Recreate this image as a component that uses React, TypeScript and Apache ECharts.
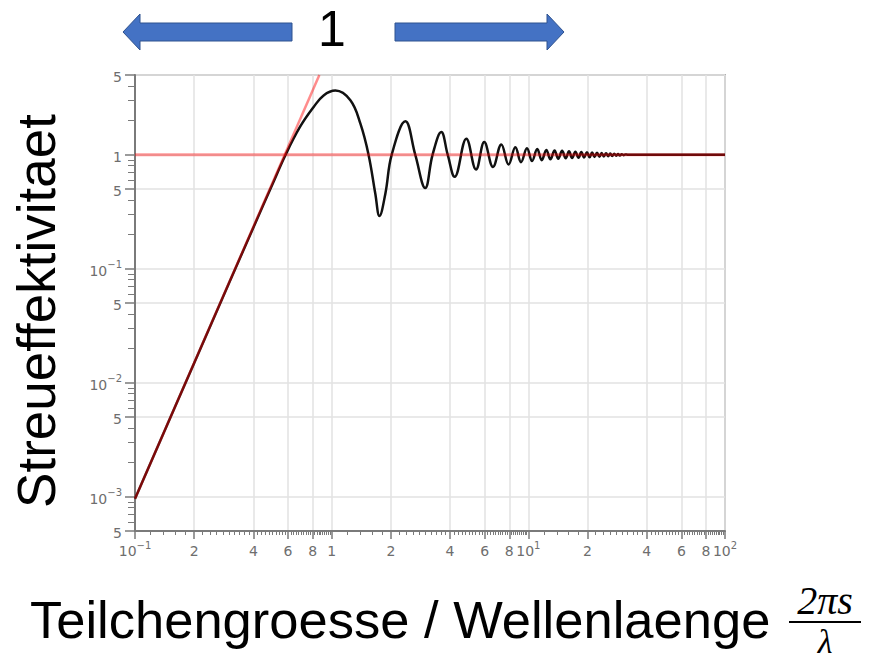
import React, { useEffect, useRef } from "react";
import * as echarts from "echarts";

// Labelled x positions (particle size parameter) and their tick texts
const xMajorTicks = [0.1, 0.2, 0.4, 0.6, 0.8, 1, 2, 4, 6, 8, 10, 20, 40, 60, 80, 100];
const xMajorLabels = ["10⁻¹", "2", "4", "6", "8", "1", "2", "4", "6", "8", "10¹", "2", "4", "6", "8", "10²"];
const xMinorMantissas = [
  1.2, 1.4, 1.6, 1.8, 2.2, 2.4, 2.6, 2.8, 3, 3.2, 3.4, 3.6, 3.8, 4.2, 4.4, 4.6, 4.8, 5, 5.2, 5.4,
  5.6, 5.8, 6.2, 6.4, 6.6, 6.8, 7, 7.2, 7.4, 7.6, 7.8, 8.2, 8.4, 8.6, 8.8, 9, 9.2, 9.4, 9.6, 9.8,
];
const xDecades = [0.1, 1, 10];

// Labelled y positions (efficiency) and their tick texts
const yMajorTicks = [0.0005, 0.001, 0.005, 0.01, 0.05, 0.1, 0.5, 1, 5];
const yMajorLabels = ["5", "10⁻³", "5", "10⁻²", "5", "10⁻¹", "5", "1", "5"];
const yMinorMantissas = [2, 3, 4, 6, 7, 8, 9];
const yDecades = [0.0001, 0.001, 0.01, 0.1, 1];

// Scattering efficiency curve
const efficiencyX = [
  0.1, 0.2, 0.3, 0.4, 0.5, 0.58, 0.69, 0.81, 0.91, 1.045, 1.245, 1.4, 1.54, 1.667, 1.75, 1.875,
  2.02, 2.37, 2.66, 2.99, 3.26, 3.61, 3.89, 4.22, 4.84, 5.42, 5.97, 6.61, 7.29, 7.94, 8.59, 9.18,
  9.84, 10.45, 11.1, 11.7, 12.35, 12.95, 13.6, 14.2, 14.85, 15.5, 16.1, 16.7, 17.35, 18.0, 18.6,
  19.2, 19.85, 20.5, 21.1, 21.7, 22.35, 23.0, 23.6, 24.2, 24.85, 25.5, 26.1, 26.7, 27.35, 28.0,
  28.6, 29.2, 29.85, 30.5, 31.1, 32, 40, 60, 100,
];
const efficiencyY = [
  0.00096, 0.0149, 0.074, 0.23, 0.55, 0.98, 1.75, 2.62, 3.31, 3.65, 3.0, 1.87, 1.0, 0.455, 0.29,
  0.455, 1.0, 1.96, 1.0, 0.51, 1.0, 1.58, 1.0, 0.64, 1.38, 0.74, 1.29, 0.78, 1.23, 0.82, 1.16, 0.86,
  1.14, 0.88, 1.12, 0.895, 1.1, 0.91, 1.09, 0.92, 1.08, 0.93, 1.07, 0.935, 1.06, 0.94, 1.055, 0.945,
  1.05, 0.95, 1.045, 0.955, 1.04, 0.96, 1.035, 0.965, 1.03, 0.97, 1.025, 0.975, 1.02, 0.98, 1.015,
  0.985, 1.01, 0.99, 1.005, 1.0, 1.0, 1.0, 1.0,
];

// Small-particle (Rayleigh) asymptote and the large-particle limit
const rayleighX = [0.1, 0.866];
const rayleighY = [0.00096, 5];
const limitX = [0.1, 100];
const limitY = [1, 1];

const near = (a: number, b: number) => Math.abs(Math.log10(a) - Math.log10(b)) < 1e-6;

const xMinorTicks = xDecades
  .flatMap((d) => xMinorMantissas.map((m) => +(d * m).toPrecision(6)));
const yMinorTicks = yDecades
  .flatMap((d) => yMinorMantissas.map((m) => +(d * m).toPrecision(6)))
  .filter((v) => v > 0.0005 && v < 5);

// Powers of ten are set as "10" with a raised exponent
const superscriptDigits: Record<string, string> = {
  "⁻": "−", "⁰": "0", "¹": "1", "²": "2", "³": "3", "⁴": "4", "⁵": "5", "⁶": "6", "⁷": "7", "⁸": "8", "⁹": "9",
};
const richLabel = (label: string) => {
  if (label.length > 2 && label.startsWith("10")) {
    const exp = label.slice(2).split("").map((c) => superscriptDigits[c] ?? c).join("");
    return `{b|10}{s|${exp}}`;
  }
  return `{b|${label}}`;
};

const labelFor = (ticks: number[], labels: string[]) => (v: number) => {
  const i = ticks.findIndex((t) => near(t, v));
  return i >= 0 ? richLabel(labels[i]) : "";
};

const tickRich = {
  b: { fontFamily: "DejaVu Sans", fontSize: 14, color: "#6e6e6e", lineHeight: 18, verticalAlign: "bottom" },
  s: { fontFamily: "DejaVu Sans", fontSize: 10, color: "#6e6e6e", lineHeight: 12, verticalAlign: "top" },
};
const axisGrey = "#7a7a7a";
const gridGrey = "#e2e2e2";

export default function App() {
  const ref = useRef<HTMLDivElement>(null);

  useEffect(() => {
    if (!ref.current) return;
    const chart = echarts.init(ref.current, null, { renderer: "svg" });

    const pairs = (xs: number[], ys: number[]) => xs.map((x, i) => [x, ys[i]]);

    chart.setOption({
      animation: false,
      backgroundColor: "#ffffff",
      grid: {
        left: 135,
        right: 152,
        top: 75,
        bottom: 132,
        show: true,
        borderColor: "#b0b0b0",
        borderWidth: 2,
      },
      xAxis: [
        {
          type: "log",
          logBase: 10,
          min: 0.1,
          max: 100,
          position: "bottom",
          axisLine: { show: true, lineStyle: { color: axisGrey, width: 2 } },
          axisTick: {
            show: true,
            length: 8,
            customValues: xMajorTicks,
            lineStyle: { color: axisGrey, width: 1.5 },
          },
          axisLabel: {
            show: true,
            customValues: xMajorTicks,
            margin: 9,
            formatter: labelFor(xMajorTicks, xMajorLabels),
            rich: tickRich,
          },
          splitLine: { show: true, lineStyle: { color: gridGrey, width: 1.5 } },
        },
        {
          type: "log",
          logBase: 10,
          min: 0.1,
          max: 100,
          position: "bottom",
          axisLine: { show: false },
          axisTick: {
            show: true,
            length: 4,
            customValues: xMinorTicks,
            lineStyle: { color: axisGrey, width: 1 },
          },
          axisLabel: { show: false },
          splitLine: { show: false },
        },
      ],
      yAxis: [
        {
          type: "log",
          logBase: 10,
          min: 0.0005,
          max: 5,
          position: "left",
          axisLine: { show: true, lineStyle: { color: axisGrey, width: 2 } },
          axisTick: {
            show: true,
            length: 10,
            customValues: yMajorTicks,
            lineStyle: { color: axisGrey, width: 1.5 },
          },
          axisLabel: {
            show: true,
            customValues: yMajorTicks,
            margin: 13,
            formatter: labelFor(yMajorTicks, yMajorLabels),
            rich: tickRich,
          },
          splitLine: { show: true, lineStyle: { color: gridGrey, width: 1.5 } },
        },
        {
          type: "log",
          logBase: 10,
          min: 0.0005,
          max: 5,
          position: "left",
          axisLine: { show: false },
          axisTick: {
            show: true,
            length: 7,
            customValues: yMinorTicks,
            lineStyle: { color: axisGrey, width: 1 },
          },
          axisLabel: { show: false },
          splitLine: { show: false },
        },
      ],
      series: [
        {
          name: "Streueffektivitaet",
          type: "line",
          data: pairs(efficiencyX, efficiencyY),
          smooth: 0.4,
          showSymbol: false,
          symbol: "none",
          lineStyle: { color: "#111111", width: 2.5 },
          z: 2,
        },
        {
          name: "Rayleigh",
          type: "line",
          data: pairs(rayleighX, rayleighY),
          showSymbol: false,
          symbol: "none",
          lineStyle: { color: "rgba(255,0,0,0.45)", width: 2.5 },
          z: 3,
        },
        {
          name: "Grenzwert",
          type: "line",
          data: pairs(limitX, limitY),
          showSymbol: false,
          symbol: "none",
          lineStyle: { color: "rgba(255,0,0,0.4)", width: 3 },
          z: 3,
        },
      ],
      graphic: [
        {
          type: "polygon",
          shape: {
            points: [
              [123, 32], [140, 14], [140, 23], [292, 23], [292, 41], [140, 41], [140, 50],
            ],
          },
          style: { fill: "#4472C4", stroke: "#2F528F", lineWidth: 1 },
        },
        {
          type: "polygon",
          shape: {
            points: [
              [395, 23], [547, 23], [547, 14], [564, 32], [547, 50], [547, 41], [395, 41],
            ],
          },
          style: { fill: "#4472C4", stroke: "#2F528F", lineWidth: 1 },
        },
        {
          type: "text",
          x: 332,
          y: 29,
          style: {
            text: "1",
            fontFamily: "Liberation Sans",
            fontSize: 50,
            fill: "#000",
            align: "center",
            verticalAlign: "middle",
          },
        },
        {
          type: "text",
          x: 36,
          y: 311,
          rotation: Math.PI / 2,
          style: {
            text: "Streueffektivitaet",
            fontFamily: "Liberation Sans",
            fontSize: 53,
            fill: "#000",
            align: "center",
            verticalAlign: "middle",
          },
        },
        {
          type: "text",
          x: 30,
          y: 619,
          style: {
            text: "Teilchengroesse / Wellenlaenge",
            fontFamily: "Liberation Sans",
            fontSize: 52.5,
            fill: "#000",
            align: "left",
            verticalAlign: "middle",
          },
        },
        {
          type: "text",
          x: 825,
          y: 600,
          style: {
            text: "2πs",
            fontFamily: "Liberation Serif",
            fontStyle: "italic",
            fontSize: 40,
            fill: "#000",
            align: "center",
            verticalAlign: "middle",
          },
        },
        {
          type: "line",
          shape: { x1: 789, y1: 622, x2: 861, y2: 622 },
          style: { stroke: "#000", lineWidth: 2 },
        },
        {
          type: "text",
          x: 825,
          y: 641,
          style: {
            text: "λ",
            fontFamily: "Liberation Serif",
            fontStyle: "italic",
            fontSize: 34,
            fill: "#000",
            align: "center",
            verticalAlign: "middle",
          },
        },
      ],
    });

    return () => chart.dispose();
  }, []);

  return (
    <div
      ref={ref}
      style={{ position: "absolute", left: 0, top: 0, width: 877, height: 663, background: "#fff" }}
    />
  );
}
